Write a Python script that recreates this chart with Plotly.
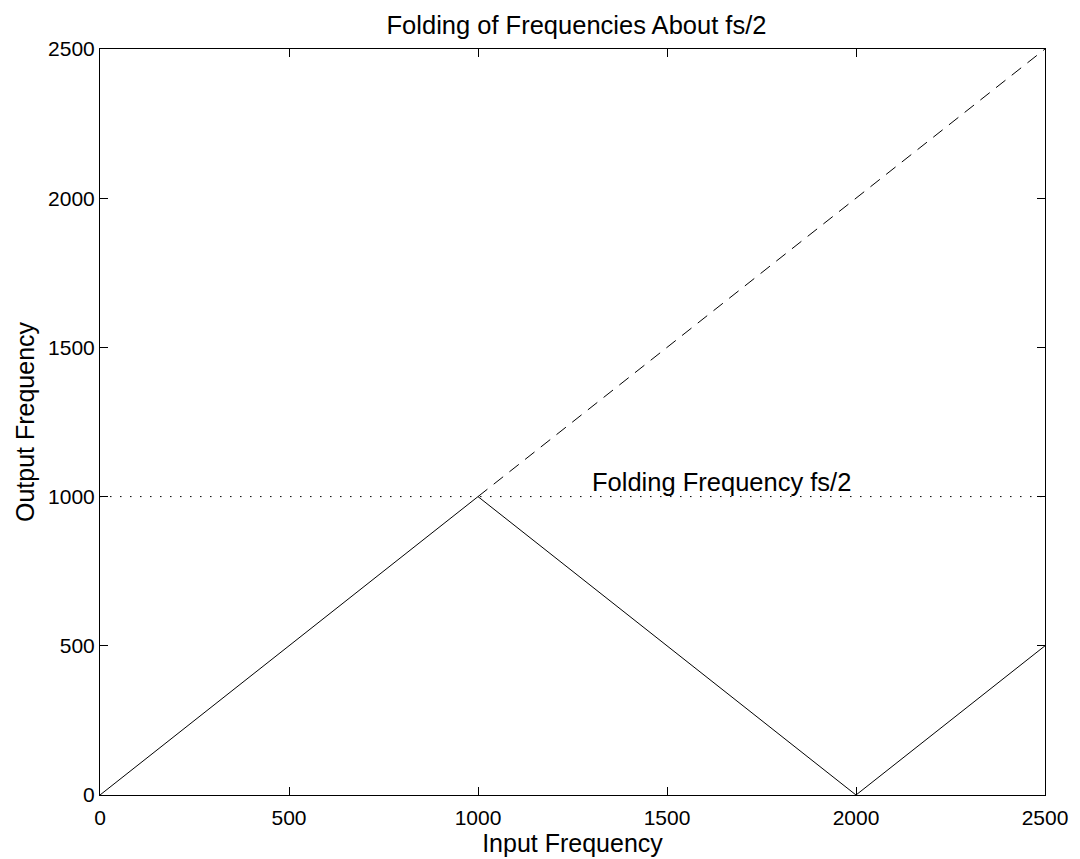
import plotly.graph_objects as go

# Data
fold_x = [0, 1000, 2000, 2500]
fold_y = [0, 1000, 0, 500]
ident_x = [1000, 2500]
ident_y = [1000, 2500]
fs2_x = [0, 2500]
fs2_y = [1000, 1000]
tick_vals = [0, 500, 1000, 1500, 2000, 2500]
tick_text = ["0", "500", "1000", "1500", "2000", "2500"]

FONT = "Liberation Sans, Arial, Helvetica, sans-serif"

fig = go.Figure()
fig.add_trace(go.Scatter(x=fold_x, y=fold_y, mode="lines",
                         line=dict(color="black", width=1), hoverinfo="skip"))
fig.add_trace(go.Scatter(x=ident_x, y=ident_y, mode="lines",
                         line=dict(color="black", width=1, dash="12px,8px"), hoverinfo="skip"))
fig.add_trace(go.Scatter(x=fs2_x, y=fs2_y, mode="lines",
                         line=dict(color="black", width=1, dash="1.5px,8.5px"), hoverinfo="skip"))

fig.add_annotation(x=1300, y=1000, xref="x", yref="y", text="Folding Frequency fs/2",
                   showarrow=False, xanchor="left", yanchor="bottom",
                   font=dict(family=FONT, size=25.5, color="black"), borderpad=0)

axis_common = dict(
    showgrid=False, zeroline=False, showline=True, linecolor="black", linewidth=1,
    mirror="ticks", ticks="inside", ticklen=8, tickcolor="black", tickwidth=1,
    tickvals=tick_vals, ticktext=tick_text,
    tickfont=dict(family=FONT, size=21, color="black"),
)

# page body has an 8px margin; figure is sized/offset to compensate
W, H = 1072, 851
L, R, T, B = 92, 27, 41, 51

fig.update_layout(
    width=W, height=H,
    margin=dict(l=L, r=R, t=T, b=B),
    paper_bgcolor="white", plot_bgcolor="white",
    showlegend=False,
    hovermode=False,
    title=dict(text="Folding of Frequencies About fs/2",
               x=(L + (W - R)) / 2 / W, xanchor="center",
               y=1 - 17 / H, yanchor="middle",
               font=dict(family=FONT, size=25.5, color="black")),
    xaxis=dict(range=[0, 2500], ticklabelstandoff=4,
               title=dict(text="Input Frequency", font=dict(family=FONT, size=25, color="black"), standoff=0),
               **axis_common),
    yaxis=dict(range=[0, 2500],
               title=dict(text="Output Frequency", font=dict(family=FONT, size=25, color="black"), standoff=6),
               **axis_common),
)

fig.write_html("out.html", config={"displayModeBar": False})
